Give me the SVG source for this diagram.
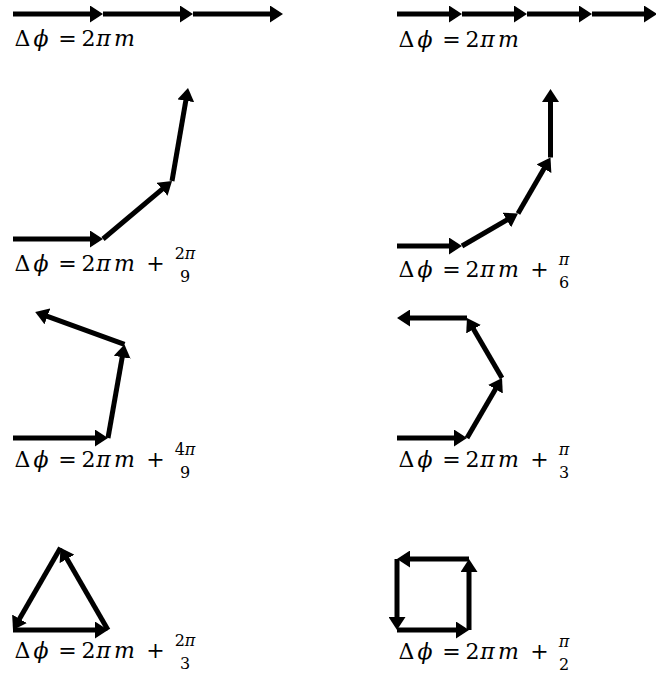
<svg xmlns="http://www.w3.org/2000/svg" width="656" height="675" viewBox="0 0 656 675">
<style>
.arr{stroke:#000;stroke-width:5;fill:none;marker-end:url(#ah)}
.lbl{font-family:'DejaVu Serif',serif;font-size:22px;fill:#000;text-anchor:middle}
.it{font-style:italic}
.fr{font-size:16px}
</style>
<defs>
<marker id="ah" markerUnits="userSpaceOnUse" viewBox="0 0 13 17" markerWidth="13" markerHeight="17" refX="8" refY="8.5" orient="auto">
<path d="M0,0 L13,8.5 L0,17 z" fill="#000"/>
</marker>
</defs>
<rect width="656" height="675" fill="#fff"/>

<g id="connectors">
<g id="arrows-1a">
<line class="arr" x1="13" y1="14" x2="98" y2="14"/>
<line class="arr" x1="103" y1="14" x2="188" y2="14"/>
<line class="arr" x1="193" y1="14" x2="278" y2="14"/>
</g>
<g id="arrows-1b">
<line class="arr" x1="397" y1="14" x2="457" y2="14"/>
<line class="arr" x1="462" y1="14" x2="522" y2="14"/>
<line class="arr" x1="527" y1="14" x2="587" y2="14"/>
<line class="arr" x1="592" y1="14" x2="652" y2="14"/>
</g>
<g id="arrows-2a">
<line class="arr" x1="13" y1="239" x2="98" y2="239"/>
<line class="arr" x1="103" y1="239" x2="168.2" y2="184.2"/>
<line class="arr" x1="172" y1="181" x2="187.15" y2="92.9"/>
</g>
<g id="arrows-2b">
<line class="arr" x1="397" y1="246" x2="457" y2="246"/>
<line class="arr" x1="462" y1="246" x2="513.7" y2="216"/>
<line class="arr" x1="518" y1="213.5" x2="548" y2="161.8"/>
<line class="arr" x1="550.5" y1="157.5" x2="550.5" y2="94"/>
</g>
<g id="arrows-3a">
<line class="arr" x1="13" y1="438" x2="103" y2="438"/>
<line class="arr" x1="108" y1="438" x2="123.6" y2="349.3"/>
<line class="arr" x1="124.5" y1="344.4" x2="39.9" y2="313.6"/>
</g>
<g id="arrows-3b">
<line class="arr" x1="397" y1="438" x2="462" y2="438"/>
<line class="arr" x1="467" y1="438" x2="499.5" y2="382.3"/>
<line class="arr" x1="502" y1="378" x2="469.5" y2="322.3"/>
<line class="arr" x1="467" y1="318" x2="402" y2="318"/>
</g>
<g id="arrows-4a">
<line class="arr" x1="13" y1="630" x2="103" y2="630"/>
<line class="arr" x1="108" y1="630" x2="63" y2="552"/>
<line class="arr" x1="60.5" y1="547.7" x2="15.5" y2="625.7"/>
</g>
<g id="arrows-4b">
<line class="arr" x1="397" y1="630" x2="464" y2="630"/>
<line class="arr" x1="469" y1="630" x2="469" y2="564"/>
<line class="arr" x1="469" y1="559" x2="402" y2="559"/>
<line class="arr" x1="397" y1="559" x2="397" y2="625"/>
</g>
</g>

<g id="label-1a" transform="translate(13,46)">
<text class="lbl"><tspan x="9.5" y="0">Δ</tspan><tspan x="28" class="it">ϕ</tspan><tspan x="54.5">=</tspan><tspan x="75.5">2</tspan><tspan x="90.5" class="it">π</tspan><tspan x="111.5" class="it">m</tspan></text>
</g>
<g id="label-1b" transform="translate(397,47)">
<text class="lbl"><tspan x="9.5" y="0">Δ</tspan><tspan x="28" class="it">ϕ</tspan><tspan x="54.5">=</tspan><tspan x="75.5">2</tspan><tspan x="90.5" class="it">π</tspan><tspan x="111.5" class="it">m</tspan></text>
</g>

<g id="label-2a" transform="translate(13,271)">
<text class="lbl"><tspan x="9.5" y="0">Δ</tspan><tspan x="28" class="it">ϕ</tspan><tspan x="54.5">=</tspan><tspan x="75.5">2</tspan><tspan x="90.5" class="it">π</tspan><tspan x="111.5" class="it">m</tspan><tspan x="142.5">+</tspan><tspan x="172" y="-12" class="fr">2<tspan class="it">π</tspan></tspan><tspan x="172" y="11" class="fr">9</tspan></text>
</g>
<g id="label-2b" transform="translate(397,277)">
<text class="lbl"><tspan x="9.5" y="0">Δ</tspan><tspan x="28" class="it">ϕ</tspan><tspan x="54.5">=</tspan><tspan x="75.5">2</tspan><tspan x="90.5" class="it">π</tspan><tspan x="111.5" class="it">m</tspan><tspan x="142.5">+</tspan><tspan x="167" y="-12" class="fr it">π</tspan><tspan x="167" y="11" class="fr">6</tspan></text>
</g>

<g id="label-3a" transform="translate(13,467)">
<text class="lbl"><tspan x="9.5" y="0">Δ</tspan><tspan x="28" class="it">ϕ</tspan><tspan x="54.5">=</tspan><tspan x="75.5">2</tspan><tspan x="90.5" class="it">π</tspan><tspan x="111.5" class="it">m</tspan><tspan x="142.5">+</tspan><tspan x="172" y="-12" class="fr">4<tspan class="it">π</tspan></tspan><tspan x="172" y="11" class="fr">9</tspan></text>
</g>
<g id="label-3b" transform="translate(397,467)">
<text class="lbl"><tspan x="9.5" y="0">Δ</tspan><tspan x="28" class="it">ϕ</tspan><tspan x="54.5">=</tspan><tspan x="75.5">2</tspan><tspan x="90.5" class="it">π</tspan><tspan x="111.5" class="it">m</tspan><tspan x="142.5">+</tspan><tspan x="167" y="-12" class="fr it">π</tspan><tspan x="167" y="11" class="fr">3</tspan></text>
</g>

<g id="label-4a" transform="translate(13,658)">
<text class="lbl"><tspan x="9.5" y="0">Δ</tspan><tspan x="28" class="it">ϕ</tspan><tspan x="54.5">=</tspan><tspan x="75.5">2</tspan><tspan x="90.5" class="it">π</tspan><tspan x="111.5" class="it">m</tspan><tspan x="142.5">+</tspan><tspan x="172" y="-12" class="fr">2<tspan class="it">π</tspan></tspan><tspan x="172" y="11" class="fr">3</tspan></text>
</g>
<g id="label-4b" transform="translate(397,659)">
<text class="lbl"><tspan x="9.5" y="0">Δ</tspan><tspan x="28" class="it">ϕ</tspan><tspan x="54.5">=</tspan><tspan x="75.5">2</tspan><tspan x="90.5" class="it">π</tspan><tspan x="111.5" class="it">m</tspan><tspan x="142.5">+</tspan><tspan x="167" y="-12" class="fr it">π</tspan><tspan x="167" y="11" class="fr">2</tspan></text>
</g>
</svg>
